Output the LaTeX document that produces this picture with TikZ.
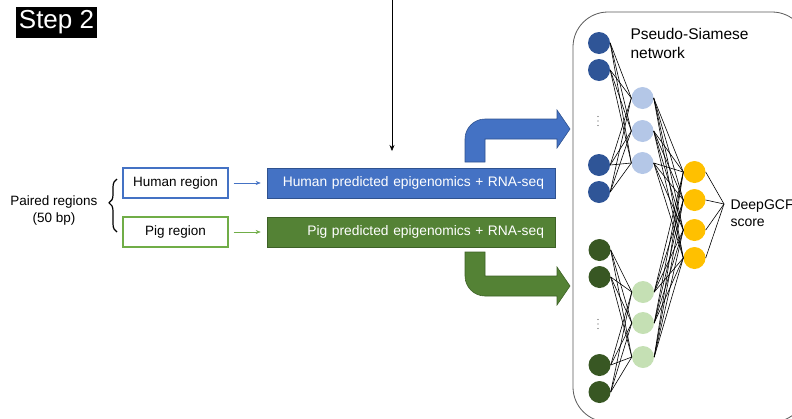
\documentclass[tikz,border=0pt]{standalone}
\usepackage{fontspec}
\setmainfont{Liberation Sans}
\usetikzlibrary{arrows.meta,decorations.pathreplacing}

\definecolor{hblue}{HTML}{4472C4}
\definecolor{hblueline}{HTML}{2F528F}
\definecolor{hdark}{HTML}{2F5597}
\definecolor{hlight}{HTML}{B4C7E7}
\definecolor{pgreen}{HTML}{70AD47}
\definecolor{pgbar}{HTML}{548235}
\definecolor{pgbarline}{HTML}{3D6126}
\definecolor{pdark}{HTML}{385723}
\definecolor{plight}{HTML}{C5E0B4}
\definecolor{gold}{HTML}{FFC000}
\definecolor{boxgray}{HTML}{595959}

\begin{document}
\begin{tikzpicture}[x=1pt, y=-1pt,
    every node/.style={font=\fontsize{13.5}{17}\selectfont},
    regbox/.style={draw, line width=1.2pt, fill=white, minimum width=105pt,
                   minimum height=30pt, inner sep=0pt},
    bar/.style={draw, line width=0.6pt, minimum height=30pt, text width=266pt,
                inner xsep=11pt, align=right, text=white, font=\fontsize{13.8}{17}\selectfont},
    neuron/.style={circle, minimum size=22pt, inner sep=0pt},
    link/.style={line width=0.6pt},
    bigarrow/.style={line width=0.6pt}
]
    \useasboundingbox (0,0) rectangle (792,418);

    % step label
    \node[fill=black, text=white, minimum width=81pt, minimum height=31pt, inner sep=0pt,
          font=\fontsize{26}{28}\selectfont] (step) at (56.5,22.5) {Step 2};

    % input from step 1
    \coordinate (feed) at (392,-2);
    \coordinate (feedend) at (392,151);
    \draw[-{Stealth[length=6pt,width=5pt]}, line width=0.6pt] (feed) -- (feedend);

    % paired regions
    \node[align=center] (paired) at (54,211) {Paired regions\\(50 bp)};
    \draw[line width=1.2pt, decorate, decoration={brace, amplitude=8pt, aspect=0.55}]
        (117,232) -- (117,179);

    \node[regbox, draw=hblue] (hreg) at (175.5,183) {Human region};
    \node[regbox, draw=pgreen] (preg) at (175.5,232) {Pig region};

    \node[bar, fill=hblue, draw=hblueline] (hbar) at (411,183)
        {Human predicted epigenomics + RNA-seq};
    \node[bar, fill=pgbar, draw=pgbarline] (pbar) at (411,232)
        {Pig predicted epigenomics + RNA-seq};

    \draw[-{Stealth[length=5pt,width=4pt]}, hblue, shorten <=5pt, shorten >=6pt] (hreg) -- (hbar);
    \draw[-{Stealth[length=5pt,width=4pt]}, pgreen, shorten <=5pt, shorten >=6pt] (preg) -- (pbar);

    % bent arrows into the network
    \filldraw[bigarrow, fill=hblue, draw=hblueline]
        (465,162) -- (465,139) .. controls (465,128) and (474,119) .. (485,119)
        -- (557,119) -- (557,110) -- (570,129) -- (557,148) -- (557,139)
        -- (485,139) -- (485,162) -- cycle;
    \filldraw[bigarrow, fill=pgbar, draw=pgbarline]
        (465,252) -- (465,276) .. controls (465,287) and (474,296) .. (485,296)
        -- (557,296) -- (557,305) -- (570,286) -- (557,267) -- (557,276)
        -- (485,276) -- (485,252) -- cycle;

    % network
    \draw[boxgray, line width=0.8pt, rounded corners=35pt] (573,12) rectangle (807,422);
    \node[anchor=west, align=left, font=\fontsize{15.5}{19}\selectfont] (nettitle) at (627,43)
        {Pseudo-Siamese\\network};

    \foreach \y [count=\i] in {43,70,165,192}
        \node[neuron, fill=hdark] (hin\i) at (599,\y) {};
    \foreach \y [count=\i] in {250,277,365,392}
        \node[neuron, fill=pdark] (pin\i) at (599.5,\y) {};
    \foreach \y [count=\i] in {98,131,163}
        \node[neuron, fill=hlight] (hhid\i) at (642.5,\y) {};
    \foreach \y [count=\i] in {292,323,357}
        \node[neuron, fill=plight] (phid\i) at (643,\y) {};
    \foreach \y [count=\i] in {172,200,230,258}
        \node[neuron, fill=gold] (out\i) at (694.5,\y) {};

    % skipped inputs
    \foreach \d in {-4.5,0,4.5} {
        \fill[black!70] (598,121+\d) circle (0.7pt);
        \fill[black!70] (598,324+\d) circle (0.7pt);
    }

    \foreach \i in {1,...,4}
        \foreach \j in {1,2,3} {
            \draw[link] (hin\i.east) -- (hhid\j.west);
            \draw[link] (pin\i.east) -- (phid\j.west);
        }
    \foreach \j in {1,2,3}
        \foreach \k in {1,...,4} {
            \draw[link] (hhid\j.east) -- (out\k.west);
            \draw[link] (phid\j.east) -- (out\k.west);
        }

    \coordinate (scorein) at (724,204);
    \foreach \k in {1,...,4}
        \draw[link] (out\k.east) -- (scorein);
    \node[anchor=west, align=left, font=\fontsize{14}{17}\selectfont] (score) at (727,213)
        {DeepGCF\\score};
\end{tikzpicture}
\end{document}
